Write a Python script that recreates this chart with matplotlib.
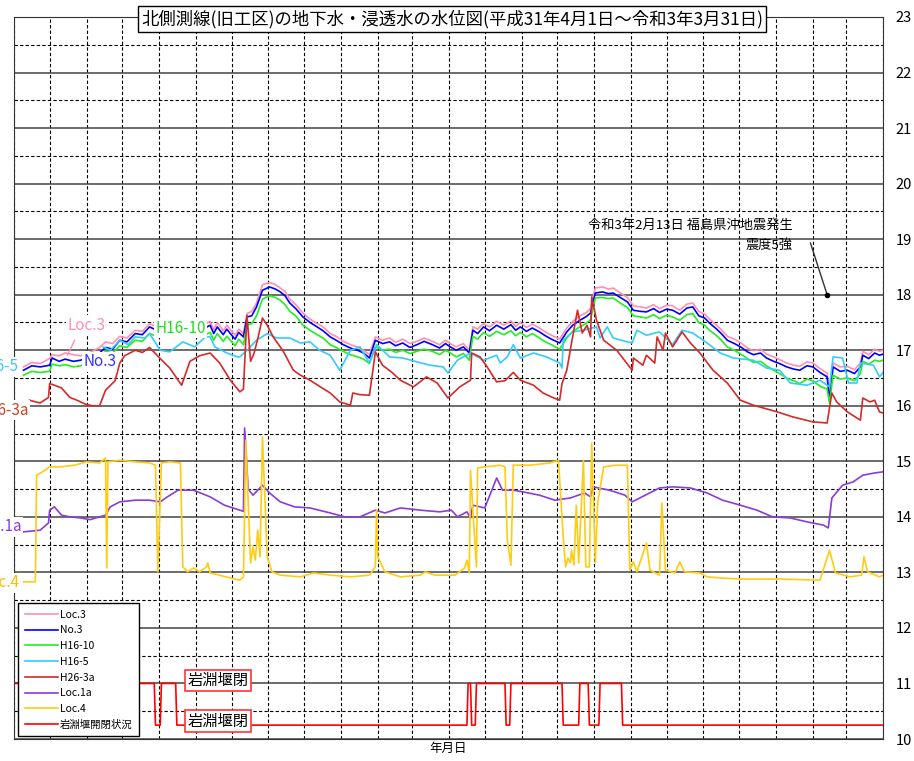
import numpy as np
import pandas as pd
import matplotlib
matplotlib.use("Agg")
import matplotlib.pyplot as plt
from matplotlib.ticker import MultipleLocator, FixedLocator, NullFormatter

plt.rcParams['font.family'] = ['Noto Sans CJK JP', 'DejaVu Sans']

# 観測開始日からの経過日数 (2019-04-01 = 0)
START = pd.Timestamp('2019-04-01')
END = pd.Timestamp('2021-04-01')

# Loc.3 / No.3 / H16-10 は同じ日付で読み取り
DAYS_UPPER = [8, 15, 22, 30, 32, 38, 43, 50, 56, 64, 72, 77, 83, 89, 95, 102, 108, 114, 120, 127,
              134, 140, 147, 153, 159, 165, 168, 171, 176, 179, 182, 186, 189, 193, 196, 200, 204, 209,
              215, 220, 224, 228, 232, 237, 243, 249, 255, 260, 266, 271, 277, 283, 289, 294, 299, 304,
              310, 316, 321, 327, 333, 339, 345, 352, 358, 363, 367, 372, 378, 383, 386, 390, 395, 400,
              406, 412, 418, 422, 426, 431, 436, 442, 447, 452, 459, 465, 470, 476, 481, 485, 489, 495,
              500, 504, 510, 516, 521, 527, 532, 538, 543, 549, 554, 560, 566, 571, 576, 581, 585, 590,
              595, 600, 606, 612, 617, 622, 628, 633, 639, 644, 650, 656, 661, 667, 672, 678, 684, 686,
              689, 695, 701, 707, 712, 714, 719, 724, 728, 731]
NO3 = [16.64, 16.72, 16.70, 16.73, 16.86, 16.80, 16.84, 16.80, 16.82, 16.88, 16.95, 17.05, 17.02, 17.18,
       17.15, 17.30, 17.28, 17.42, 17.36, 17.45, 17.40, 17.45, 17.40, 17.48, 17.38, 17.45, 17.30, 17.42,
       17.28, 17.38, 17.30, 17.20, 17.32, 17.24, 17.60, 17.62, 17.78, 18.08, 18.14, 18.10, 18.05, 17.98,
       17.85, 17.75, 17.60, 17.50, 17.42, 17.35, 17.24, 17.18, 17.10, 17.04, 17.00, 16.95, 16.86, 17.18,
       17.12, 17.15, 17.08, 17.13, 17.05, 17.10, 17.16, 17.10, 17.04, 17.12, 17.06, 17.00, 17.06, 16.95,
       17.36, 17.30, 17.42, 17.35, 17.45, 17.38, 17.46, 17.36, 17.42, 17.34, 17.40, 17.33, 17.26, 17.20,
       17.13, 17.33, 17.45, 17.54, 17.60, 17.67, 18.03, 18.05, 18.02, 18.03, 17.95, 17.87, 17.72, 17.70,
       17.69, 17.75, 17.68, 17.74, 17.72, 17.65, 17.76, 17.78, 17.62, 17.58, 17.49, 17.40, 17.30, 17.18,
       17.12, 17.05, 16.97, 16.92, 16.95, 16.86, 16.80, 16.76, 16.70, 16.66, 16.64, 16.72, 16.70, 16.60,
       16.52, 16.10, 16.70, 16.62, 16.64, 16.58, 16.70, 16.91, 16.85, 16.95, 16.91, 16.93]
LOC3 = [16.70, 16.78, 16.76, 16.85, 16.92, 16.90, 16.95, 16.92, 16.90, 16.96, 17.05, 17.15, 17.12, 17.25,
        17.22, 17.36, 17.34, 17.48, 17.42, 17.52, 17.46, 17.52, 17.47, 17.55, 17.45, 17.52, 17.37, 17.50,
        17.35, 17.45, 17.37, 17.27, 17.38, 17.30, 17.66, 17.70, 17.85, 18.18, 18.22, 18.18, 18.12, 18.06,
        17.92, 17.82, 17.67, 17.56, 17.48, 17.42, 17.30, 17.25, 17.16, 17.10, 17.06, 17.00, 16.92, 17.24,
        17.18, 17.22, 17.14, 17.20, 17.12, 17.16, 17.22, 17.16, 17.10, 17.18, 17.12, 17.06, 17.12, 17.00,
        17.42, 17.38, 17.48, 17.42, 17.52, 17.45, 17.53, 17.43, 17.50, 17.41, 17.47, 17.40, 17.33, 17.27,
        17.20, 17.40, 17.52, 17.62, 17.67, 17.75, 18.12, 18.14, 18.10, 18.12, 18.03, 17.95, 17.80, 17.78,
        17.76, 17.82, 17.75, 17.81, 17.80, 17.72, 17.83, 17.85, 17.70, 17.65, 17.56, 17.47, 17.37, 17.25,
        17.20, 17.12, 17.04, 16.99, 17.02, 16.93, 16.88, 16.83, 16.77, 16.73, 16.71, 16.79, 16.77, 16.67,
        16.59, 16.20, 16.77, 16.70, 16.71, 16.65, 16.77, 16.98, 16.92, 17.02, 16.98, 17.00]
H16_10 = [16.55, 16.62, 16.60, 16.62, 16.75, 16.72, 16.74, 16.70, 16.72, 16.78, 16.85, 16.98, 16.95, 17.08,
          17.05, 17.18, 17.16, 17.30, 17.25, 17.33, 17.28, 17.33, 17.28, 17.36, 17.26, 17.32, 17.18, 17.30,
          17.16, 17.25, 17.18, 17.08, 17.20, 17.10, 17.45, 17.48, 17.62, 17.92, 17.98, 17.95, 17.90, 17.82,
          17.70, 17.62, 17.45, 17.36, 17.28, 17.22, 17.10, 17.05, 16.98, 16.92, 16.88, 16.84, 16.76, 17.06,
          17.00, 17.02, 16.96, 17.00, 16.94, 16.98, 17.02, 16.98, 16.92, 17.00, 16.95, 16.88, 16.94, 16.82,
          17.25, 17.20, 17.32, 17.25, 17.34, 17.28, 17.35, 17.26, 17.32, 17.24, 17.30, 17.22, 17.15, 17.10,
          17.02, 17.22, 17.34, 17.42, 17.48, 17.55, 17.94, 17.95, 17.93, 17.94, 17.85, 17.77, 17.62, 17.60,
          17.58, 17.64, 17.57, 17.63, 17.60, 17.54, 17.64, 17.66, 17.50, 17.45, 17.36, 17.28, 17.18, 17.06,
          17.00, 16.92, 16.85, 16.78, 16.80, 16.72, 16.64, 16.58, 16.50, 16.45, 16.40, 16.48, 16.45, 16.35,
          16.30, 16.05, 16.55, 16.48, 16.50, 16.45, 16.58, 16.80, 16.75, 16.82, 16.80, 16.82]

DAYS_H16_5 = [75, 81, 89, 96, 102, 110, 114, 123, 131, 142, 152, 161, 165, 169, 179, 188, 190, 196, 204,
              213, 221, 232, 241, 249, 257, 266, 274, 283, 291, 299, 305, 316, 327, 339, 350, 361, 365,
              373, 384, 395, 406, 409, 415, 420, 426, 437, 448, 459, 461, 462, 470, 479, 490, 493, 499,
              504, 516, 520, 524, 532, 543, 554, 562, 571, 583, 594, 605, 622, 633, 644, 653, 667, 678,
              686, 689, 697, 702, 709, 712, 723, 728, 731]
H16_5 = [17.06, 17.00, 17.18, 17.10, 17.24, 17.22, 17.30, 17.00, 16.97, 17.15, 17.06, 17.24, 17.24, 17.06,
         16.95, 16.88, 16.88, 17.00, 17.18, 17.30, 17.22, 17.22, 17.13, 17.15, 17.00, 16.91, 16.64, 17.00,
         17.06, 16.77, 17.10, 16.88, 16.86, 16.79, 16.73, 16.70, 16.59, 16.82, 16.95, 16.82, 16.91, 16.77,
         16.88, 17.10, 16.86, 16.95, 16.88, 16.77, 16.68, 17.18, 17.33, 17.36, 17.42, 17.22, 17.42, 17.22,
         17.15, 17.13, 17.36, 17.27, 17.33, 17.10, 17.36, 17.31, 17.13, 16.95, 16.86, 16.82, 16.68, 16.64,
         16.41, 16.37, 16.46, 16.34, 16.88, 16.86, 16.41, 16.41, 16.77, 16.73, 16.52, 16.60]

DAYS_H26_3A = [13, 22, 29, 30, 34, 40, 47, 53, 60, 66, 72, 77, 85, 89, 93, 102, 108, 114, 123, 131, 141,
               148, 156, 165, 173, 182, 190, 193, 196, 199, 202, 205, 209, 213, 218, 226, 235, 241, 249,
               257, 266, 274, 283, 285, 291, 299, 304, 310, 318, 325, 336, 347, 356, 365, 375, 384, 385,
               392, 398, 406, 413, 420, 426, 437, 445, 453, 459, 461, 465, 469, 474, 478, 482, 485, 486,
               490, 496, 507, 520, 521, 529, 532, 539, 541, 546, 548, 554, 562, 569, 577, 588, 600, 611,
               622, 632, 642, 655, 672, 684, 688, 692, 701, 712, 714, 720, 724, 728, 731]
H26_3A = [16.10, 16.05, 16.15, 16.40, 16.37, 16.32, 16.15, 16.10, 16.03, 16.00, 16.00, 16.28, 16.45, 16.77,
          16.90, 17.00, 16.96, 17.05, 16.85, 16.68, 16.37, 16.80, 16.90, 16.95, 16.77, 16.46, 16.25, 16.30,
          17.63, 16.80, 16.95, 17.20, 17.58, 17.45, 17.24, 17.00, 16.64, 16.55, 16.46, 16.35, 16.23, 16.07,
          16.01, 16.23, 16.20, 16.19, 16.97, 16.73, 16.60, 16.46, 16.34, 16.52, 16.41, 16.14, 16.34, 16.46,
          16.95, 16.88, 16.70, 16.43, 16.45, 16.60, 16.46, 16.37, 16.23, 16.15, 16.10, 16.40, 16.64, 17.13,
          17.72, 17.31, 17.45, 17.24, 17.96, 17.54, 17.18, 17.00, 16.64, 16.86, 16.73, 16.91, 16.77, 17.24,
          17.00, 17.31, 17.06, 17.33, 17.13, 16.95, 16.64, 16.41, 16.10, 16.01, 15.95, 15.89, 15.80, 15.71,
          15.69, 16.23, 16.07, 15.89, 15.74, 16.14, 16.07, 16.10, 15.89, 15.87]

DAYS_LOC1A = [8, 22, 29, 30, 34, 40, 47, 56, 64, 77, 81, 89, 102, 114, 123, 129, 138, 151, 165, 177, 190,
              193, 194, 197, 201, 209, 215, 224, 236, 249, 266, 278, 291, 304, 312, 325, 342, 358, 368,
              373, 381, 384, 386, 396, 406, 411, 420, 428, 442, 455, 468, 480, 485, 487, 501, 514, 520,
              531, 543, 554, 569, 583, 596, 611, 625, 638, 653, 667, 681, 685, 688, 697, 706, 714, 724, 731]
LOC1A = [13.73, 13.76, 13.89, 14.12, 14.18, 14.03, 14.00, 13.98, 13.95, 14.03, 14.18, 14.27, 14.30, 14.30,
         14.27, 14.36, 14.48, 14.48, 14.36, 14.21, 14.12, 14.10, 15.60, 14.50, 14.39, 14.57, 14.43, 14.27,
         14.18, 14.16, 14.07, 14.00, 14.00, 14.12, 14.07, 14.16, 14.12, 14.09, 14.12, 14.00, 14.09, 13.98,
         14.21, 14.16, 14.70, 14.48, 14.48, 14.45, 14.39, 14.30, 14.34, 14.43, 14.36, 14.54, 14.48, 14.39,
         14.27, 14.39, 14.52, 14.54, 14.52, 14.43, 14.30, 14.21, 14.12, 14.00, 13.98, 13.91, 13.85, 13.80,
         14.34, 14.57, 14.63, 14.75, 14.79, 14.81]

DAYS_LOC4 = [8, 18, 19, 24, 30, 39, 51, 61, 72, 77, 78, 79, 89, 102, 114, 119, 121, 124, 131, 140, 142,
             146, 151, 156, 162, 163, 165, 182, 190, 193, 195, 199, 201, 203, 205, 207, 209, 213, 217,
             224, 241, 252, 266, 283, 299, 304, 305, 306, 312, 325, 342, 346, 354, 367, 371, 379, 381,
             383, 384, 386, 389, 390, 396, 409, 413, 415, 418, 420, 434, 451, 458, 462, 464, 466, 468,
             469, 471, 473, 475, 479, 481, 484, 486, 489, 491, 496, 506, 516, 518, 521, 524, 532, 535,
             543, 545, 548, 556, 560, 564, 577, 583, 594, 611, 644, 678, 686, 691, 703, 713, 715, 718,
             728, 731]
LOC4 = [12.83, 12.83, 14.75, 14.81, 14.90, 14.90, 14.93, 14.99, 14.97, 15.06, 13.08, 14.99, 15.02, 14.99,
        14.97, 14.93, 13.01, 14.97, 14.99, 14.97, 13.10, 13.01, 13.08, 13.01, 13.10, 13.17, 12.99, 12.90,
        12.86, 12.92, 15.38, 13.17, 13.46, 13.22, 13.76, 13.28, 15.44, 13.28, 13.01, 12.95, 12.92, 12.99,
        12.95, 12.92, 12.95, 13.10, 14.12, 13.28, 13.01, 12.92, 12.95, 13.01, 12.95, 12.95, 12.95, 13.08,
        13.22, 12.99, 14.84, 14.12, 13.10, 14.88, 14.90, 14.93, 14.90, 13.58, 13.13, 14.93, 14.93, 14.97,
        15.02, 13.64, 13.10, 13.26, 13.17, 13.40, 13.13, 14.21, 13.17, 15.02, 13.10, 13.10, 15.33, 13.17,
        14.25, 14.90, 14.93, 14.93, 13.04, 13.19, 13.01, 13.53, 13.04, 12.95, 14.25, 13.04, 12.99, 13.19,
        13.01, 12.99, 12.92, 12.90, 12.88, 12.88, 12.86, 13.40, 12.99, 12.92, 12.95, 13.28, 13.01, 12.92,
        12.95]

# 岩淵堰開閉状況 (11 = 閉, 10.25 = 開)
DAYS_WEIR = [0, 118, 119, 123, 124, 136, 137, 381, 382, 384, 385, 388, 389, 413, 414, 417, 418, 461, 462,
             475, 476, 483, 484, 492, 493, 511, 512, 731]
WEIR = [11, 11, 10.25, 10.25, 11, 11, 10.25, 10.25, 11, 11, 10.25, 10.25, 11, 11, 10.25, 10.25, 11, 11,
        10.25, 10.25, 11, 11, 10.25, 10.25, 11, 11, 10.25, 10.25]

QUAKE_DAY = (pd.Timestamp('2021-02-13') - START).days

series = [
    ('Loc.3', DAYS_UPPER, LOC3, '#FF8FB5'),
    ('No.3', DAYS_UPPER, NO3, '#0000FF'),
    ('H16-10', DAYS_UPPER, H16_10, '#22EE22'),
    ('H16-5', DAYS_H16_5, H16_5, '#33CCFF'),
    ('H26-3a', DAYS_H26_3A, H26_3A, '#D42A2A'),
    ('Loc.1a', DAYS_LOC1A, LOC1A, '#8A3BDD'),
    ('Loc.4', DAYS_LOC4, LOC4, '#FFCC11'),
    ('岩淵堰開閉状況', DAYS_WEIR, WEIR, '#FF0000'),
]

fig = plt.figure(figsize=(9.14, 7.61), dpi=100)
ax = fig.add_axes([14/914, 1-739/761, 869/914, 722/761])

total_days = (END - START).days
month_days = [(d - START).days for d in pd.date_range(START, END, freq='MS')]

ax.set_xlim(0, total_days)
ax.set_ylim(10, 23)
ax.xaxis.set_major_locator(FixedLocator(month_days))
ax.xaxis.set_major_formatter(NullFormatter())
ax.yaxis.set_major_locator(MultipleLocator(1))
ax.yaxis.set_minor_locator(MultipleLocator(0.5))
ax.yaxis.tick_right()
ax.tick_params(axis='both', which='both', length=0)
ax.tick_params(axis='y', pad=9, labelsize=10.5)

ax.grid(axis='y', which='major', color='#444444', lw=1.1, ls='-')
ax.grid(axis='y', which='minor', color='black', lw=0.8, ls=(0, (3, 2)))
ax.grid(axis='x', which='major', color='black', lw=0.8, ls=(0, (3, 2)))
ax.set_axisbelow(True)
for sp in ax.spines.values():
    sp.set_color('#333333')

for name, days, vals, col in series:
    ax.plot(days, vals, color=col, lw=1.2, label=name)

# 系列名ラベル (左端で切れているのは元図どおり)
lab_kw = dict(fontsize=11, va='center', zorder=5,
              bbox=dict(fc='white', ec='none', pad=1))
ax.text(61, 17.45, 'Loc.3', color='#FF8FB5', ha='center', **lab_kw)
ax.text(72, 16.79, 'No.3', color='#3333FF', ha='center', **lab_kw)
ax.text(140, 17.40, 'H16-10', color='#22DD22', ha='center', **lab_kw)
ax.text(3.4, 16.70, 'H16-5', color='#33CCFF', ha='right', **lab_kw)
ax.text(12.6, 15.92, 'H26-3a', color='#CC4422', ha='right', **lab_kw)
ax.text(6.7, 13.82, 'Loc.1a', color='#8A3BDD', ha='right', **lab_kw)
ax.text(5, 12.81, 'Loc.4', color='#FFBB00', ha='right', **lab_kw)
ax.plot([45, 51], [16.91, 17.18], color='#FF8FB5', lw=1)

# 岩淵堰ラベル
weir_kw = dict(fontsize=11, ha='center', va='center', zorder=6,
               bbox=dict(boxstyle='square,pad=0.15', fc='white', ec='#FF3333', lw=1.2))
ax.text(171.5, 11.05, '岩淵堰閉', **weir_kw)
ax.text(171.5, 10.32, '岩淵堰閉', **weir_kw)

# 地震注記
ax.text(483, 19.25, '令和3年2月13日 福島県沖地震発生', fontsize=9.5, ha='left', va='center')
ax.text(655, 18.88, '震度5強', fontsize=9.5, ha='right', va='center')
ax.plot([670, QUAKE_DAY], [18.93, 18.0], color='#333333', lw=1)
ax.plot([QUAKE_DAY], [18.0], 'o', color='black', ms=3)

leg = ax.legend(loc='lower left', bbox_to_anchor=(0.005, 0.004), borderaxespad=0,
                fontsize=7.5, handlelength=3.2, handletextpad=0.2, borderpad=0.6,
                labelspacing=0.55, fancybox=False, framealpha=1, edgecolor='black')
leg.get_frame().set_linewidth(1)
leg.set_zorder(10)

fig.text(452/914, 1-19/761, '北側測線(旧工区)の地下水・浸透水の水位図(平成31年4月1日～令和3年3月31日)',
         fontsize=12.5, ha='center', va='center',
         bbox=dict(boxstyle='square,pad=0.2', fc='white', ec='black', lw=1))
fig.text(448/914, 1-748/761, '年月日', fontsize=9, ha='center', va='center')

fig.savefig('out.png', dpi=100)
